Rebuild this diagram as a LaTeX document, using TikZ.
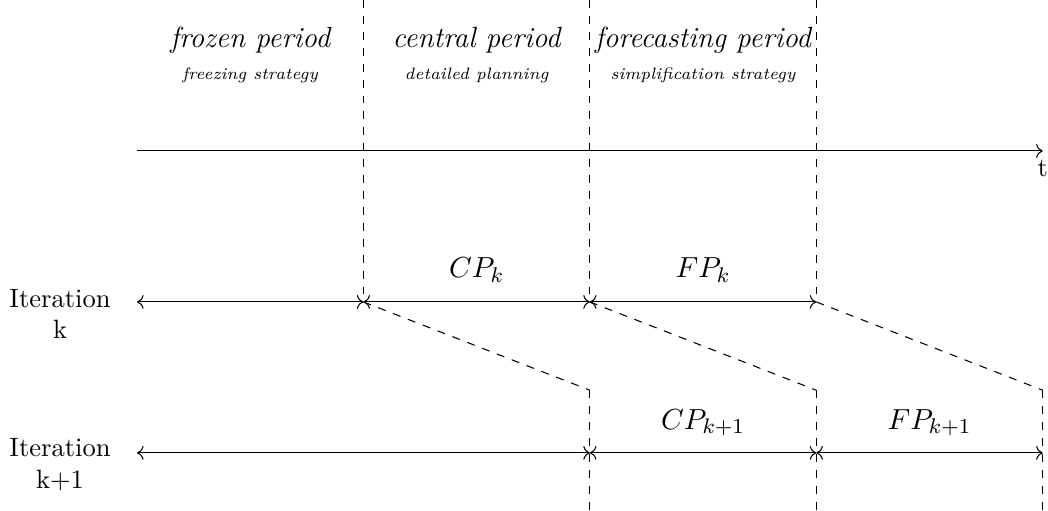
\documentclass[tikz,border=0pt]{standalone}
\usepackage{tikz}
\usetikzlibrary{arrows.meta,positioning,calc}
\tikzset{
  per/.style={font=\fontsize{11}{13}\selectfont\itshape},
  strat/.style={font=\fontsize{6.2}{7.5}\selectfont\itshape},
  lbl/.style={font=\fontsize{11}{13}\selectfont},
  itr/.style={align=center},
  span/.style={<->},
  cut/.style={dashed},
}

\begin{document}
\begin{tikzpicture}
  \useasboundingbox (-1.815,-4.77) rectangle (12.07,2.0);
  \coordinate (t0) at (0,0);
  \coordinate (t1) at (12,0);
  \foreach \i in {0,...,4} {
    \coordinate (top\i) at (3*\i,2);
    \coordinate (a\i) at (3*\i,-2);
    \coordinate (b\i) at (3*\i,-3.17);
    \coordinate (d\i) at (3*\i,-4);
    \coordinate (c\i) at (3*\i,-4.77);
  }
  \draw[->] (t0) -- (t1) node[below] (tl) {t};
  \foreach \nm/\st [count=\i] in {frozen period/freezing strategy, central period/detailed planning, forecasting period/simplification strategy} {
    \node[per] (per\i) at (3*\i-1.5,1.47) {\nm};
    \node[strat] (str\i) at (3*\i-1.5,1.0) {\st};
  }
  \foreach \i in {1,2,3}
    \draw[cut] (top\i) -- (a\i);
  \foreach \i/\j in {1/2,2/3,3/4}
    \draw[cut] (a\i) -- (b\j);
  \foreach \i in {2,3,4}
    \draw[cut] (b\i) -- (c\i);
  \foreach \i/\j in {0/1,1/2,2/3}
    \draw[span] (a\i) -- (a\j);
  \foreach \i/\j in {0/2,2/3,3/4}
    \draw[span] (d\i) -- (d\j);
  \node[lbl] (cpk) at (4.5,-1.58) {$CP_k$};
  \node[lbl] (fpk) at (7.5,-1.58) {$FP_k$};
  \node[lbl] (cpn) at (7.5,-3.6) {$CP_{k+1}$};
  \node[lbl] (fpn) at (10.5,-3.6) {$FP_{k+1}$};
  \node[itr] (itk) at (-1.02,-2.16) {Iteration\\k};
  \node[itr] (itn) at (-1.02,-4.16) {Iteration\\k+1};
\end{tikzpicture}
\end{document}
